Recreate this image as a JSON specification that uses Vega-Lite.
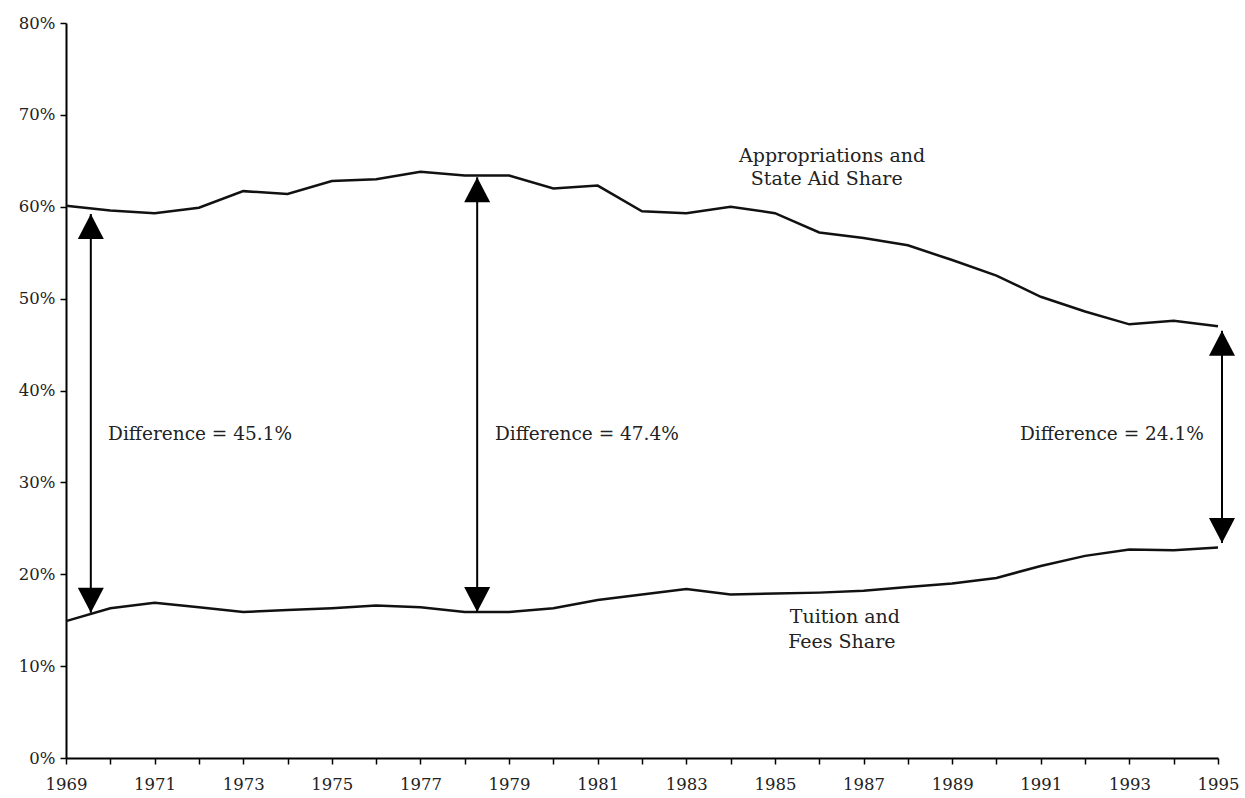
{
  "$schema": "https://vega.github.io/schema/vega-lite/v6.json",
  "width": 1152,
  "height": 735,
  "autosize": {"type": "none"},
  "padding": {"left": 66, "top": 23, "right": 27, "bottom": 40},
  "background": "white",
  "config": {
    "view": {"stroke": null},
    "font": "DejaVu Serif",
    "axis": {
      "labelFont": "DejaVu Serif",
      "labelFontSize": 16.5,
      "labelColor": "#222",
      "domainColor": "#000",
      "domainWidth": 2,
      "tickColor": "#000",
      "tickWidth": 1.5,
      "tickSize": 6,
      "grid": false,
      "title": null
    }
  },
  "datasets": {
    "series": [
      {"year": 1969, "share": 60.1, "series": "Appropriations and State Aid Share"},
      {"year": 1970, "share": 59.6, "series": "Appropriations and State Aid Share"},
      {"year": 1971, "share": 59.3, "series": "Appropriations and State Aid Share"},
      {"year": 1972, "share": 59.9, "series": "Appropriations and State Aid Share"},
      {"year": 1973, "share": 61.7, "series": "Appropriations and State Aid Share"},
      {"year": 1974, "share": 61.4, "series": "Appropriations and State Aid Share"},
      {"year": 1975, "share": 62.8, "series": "Appropriations and State Aid Share"},
      {"year": 1976, "share": 63.0, "series": "Appropriations and State Aid Share"},
      {"year": 1977, "share": 63.8, "series": "Appropriations and State Aid Share"},
      {"year": 1978, "share": 63.4, "series": "Appropriations and State Aid Share"},
      {"year": 1979, "share": 63.4, "series": "Appropriations and State Aid Share"},
      {"year": 1980, "share": 62.0, "series": "Appropriations and State Aid Share"},
      {"year": 1981, "share": 62.3, "series": "Appropriations and State Aid Share"},
      {"year": 1982, "share": 59.5, "series": "Appropriations and State Aid Share"},
      {"year": 1983, "share": 59.3, "series": "Appropriations and State Aid Share"},
      {"year": 1984, "share": 60.0, "series": "Appropriations and State Aid Share"},
      {"year": 1985, "share": 59.3, "series": "Appropriations and State Aid Share"},
      {"year": 1986, "share": 57.2, "series": "Appropriations and State Aid Share"},
      {"year": 1987, "share": 56.6, "series": "Appropriations and State Aid Share"},
      {"year": 1988, "share": 55.8, "series": "Appropriations and State Aid Share"},
      {"year": 1989, "share": 54.2, "series": "Appropriations and State Aid Share"},
      {"year": 1990, "share": 52.5, "series": "Appropriations and State Aid Share"},
      {"year": 1991, "share": 50.2, "series": "Appropriations and State Aid Share"},
      {"year": 1992, "share": 48.6, "series": "Appropriations and State Aid Share"},
      {"year": 1993, "share": 47.2, "series": "Appropriations and State Aid Share"},
      {"year": 1994, "share": 47.6, "series": "Appropriations and State Aid Share"},
      {"year": 1995, "share": 47.0, "series": "Appropriations and State Aid Share"},
      {"year": 1969, "share": 14.9, "series": "Tuition and Fees Share"},
      {"year": 1970, "share": 16.3, "series": "Tuition and Fees Share"},
      {"year": 1971, "share": 16.9, "series": "Tuition and Fees Share"},
      {"year": 1972, "share": 16.4, "series": "Tuition and Fees Share"},
      {"year": 1973, "share": 15.9, "series": "Tuition and Fees Share"},
      {"year": 1974, "share": 16.1, "series": "Tuition and Fees Share"},
      {"year": 1975, "share": 16.3, "series": "Tuition and Fees Share"},
      {"year": 1976, "share": 16.6, "series": "Tuition and Fees Share"},
      {"year": 1977, "share": 16.4, "series": "Tuition and Fees Share"},
      {"year": 1978, "share": 15.9, "series": "Tuition and Fees Share"},
      {"year": 1979, "share": 15.9, "series": "Tuition and Fees Share"},
      {"year": 1980, "share": 16.3, "series": "Tuition and Fees Share"},
      {"year": 1981, "share": 17.2, "series": "Tuition and Fees Share"},
      {"year": 1982, "share": 17.8, "series": "Tuition and Fees Share"},
      {"year": 1983, "share": 18.4, "series": "Tuition and Fees Share"},
      {"year": 1984, "share": 17.8, "series": "Tuition and Fees Share"},
      {"year": 1985, "share": 17.9, "series": "Tuition and Fees Share"},
      {"year": 1986, "share": 18.0, "series": "Tuition and Fees Share"},
      {"year": 1987, "share": 18.2, "series": "Tuition and Fees Share"},
      {"year": 1988, "share": 18.6, "series": "Tuition and Fees Share"},
      {"year": 1989, "share": 19.0, "series": "Tuition and Fees Share"},
      {"year": 1990, "share": 19.6, "series": "Tuition and Fees Share"},
      {"year": 1991, "share": 20.9, "series": "Tuition and Fees Share"},
      {"year": 1992, "share": 22.0, "series": "Tuition and Fees Share"},
      {"year": 1993, "share": 22.7, "series": "Tuition and Fees Share"},
      {"year": 1994, "share": 22.6, "series": "Tuition and Fees Share"},
      {"year": 1995, "share": 22.9, "series": "Tuition and Fees Share"}
    ],
    "arrows": [
      {"year": 1969.56, "top": 59.2, "bottom": 15.8},
      {"year": 1978.28, "top": 63.2, "bottom": 15.9},
      {"year": 1995.09, "top": 46.5, "bottom": 23.4}
    ],
    "labels": [
      {"year": 1969.95, "value": 35.3, "text": "Difference = 45.1%", "kind": "difference"},
      {"year": 1978.68, "value": 35.3, "text": "Difference = 47.4%", "kind": "difference"},
      {"year": 1990.53, "value": 35.3, "text": "Difference = 24.1%", "kind": "difference"},
      {"year": 1986.29, "value": 65.5, "text": "Appropriations and", "kind": "series"},
      {"year": 1986.17, "value": 63.0, "text": "State Aid Share", "kind": "series"},
      {"year": 1986.58, "value": 15.35, "text": "Tuition and", "kind": "series"},
      {"year": 1986.51, "value": 12.6, "text": "Fees Share", "kind": "series"}
    ]
  },
  "layer": [
    {
      "data": {"name": "series"},
      "mark": {"type": "line", "color": "#111", "strokeWidth": 2.5, "clip": false},
      "encoding": {
        "x": {
          "field": "year", "type": "quantitative",
          "scale": {"domain": [1969, 1995], "nice": false, "zero": false},
          "axis": {
            "values": [1969,1970,1971,1972,1973,1974,1975,1976,1977,1978,1979,1980,1981,1982,1983,1984,1985,1986,1987,1988,1989,1990,1991,1992,1993,1994,1995],
            "format": "d",
            "labelExpr": "datum.value % 2 == 1 ? datum.label : ''",
            "labelPadding": 12,
            "labelFlush": false,
            "labelOverlap": false
          }
        },
        "y": {
          "field": "share", "type": "quantitative",
          "scale": {"domain": [0, 80], "nice": false},
          "axis": {
            "values": [0,10,20,30,40,50,60,70,80],
            "labelExpr": "datum.value + '%'",
            "labelPadding": 5
          }
        },
        "detail": {"field": "series"}
      }
    },
    {
      "data": {"name": "arrows"},
      "mark": {"type": "rule", "color": "#000", "strokeWidth": 2, "clip": false},
      "encoding": {
        "x": {"field": "year", "type": "quantitative"},
        "y": {"field": "top", "type": "quantitative"},
        "y2": {"field": "bottom"}
      }
    },
    {
      "data": {"name": "arrows"},
      "mark": {"type": "point", "shape": "M0,0L0.52,1L-0.52,1Z", "size": 2500, "filled": true, "fill": "#000", "strokeWidth": 0, "opacity": 1, "clip": false},
      "encoding": {
        "x": {"field": "year", "type": "quantitative"},
        "y": {"field": "top", "type": "quantitative"}
      }
    },
    {
      "data": {"name": "arrows"},
      "mark": {"type": "point", "shape": "M0,0L0.52,-1L-0.52,-1Z", "size": 2500, "filled": true, "fill": "#000", "strokeWidth": 0, "opacity": 1, "clip": false},
      "encoding": {
        "x": {"field": "year", "type": "quantitative"},
        "y": {"field": "bottom", "type": "quantitative"}
      }
    },
    {
      "data": {"name": "labels"},
      "transform": [{"filter": "datum.kind == 'difference'"}],
      "mark": {"type": "text", "font": "DejaVu Serif", "fontSize": 18.5, "color": "#222", "baseline": "middle", "align": "left"},
      "encoding": {
        "x": {"field": "year", "type": "quantitative"},
        "y": {"field": "value", "type": "quantitative"},
        "text": {"field": "text"}
      }
    },
    {
      "data": {"name": "labels"},
      "transform": [{"filter": "datum.kind == 'series'"}],
      "mark": {"type": "text", "font": "DejaVu Serif", "fontSize": 19, "color": "#222", "baseline": "middle", "align": "center"},
      "encoding": {
        "x": {"field": "year", "type": "quantitative"},
        "y": {"field": "value", "type": "quantitative"},
        "text": {"field": "text"}
      }
    }
  ]
}
